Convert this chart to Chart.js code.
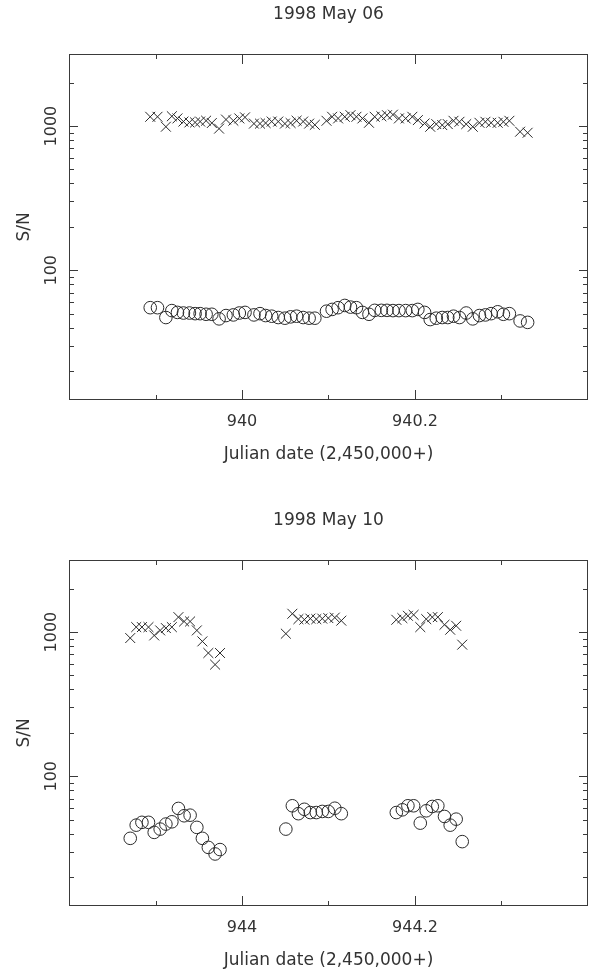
<!DOCTYPE html>
<html>
<head>
<meta charset="utf-8">
<title>S/N 1998 May 06 / May 10</title>
<script src="https://cdn.jsdelivr.net/npm/chart.js@4.4.1/dist/chart.umd.min.js"></script>
<style>
  body { margin: 0; background: #fff; overflow: hidden; }
  canvas { display: block; }
</style>
</head>
<body>
<canvas id="may06" width="598" height="506"></canvas>
<canvas id="may10" width="598" height="506"></canvas>
<script>
// ---- 1998 May 06 ----
var may06Dates = [
  939.8939, 939.9023, 939.9120, 939.9189, 939.9254, 939.9323, 939.9392, 939.9458, 939.9516, 939.9585,
  939.9651, 939.9735, 939.9815, 939.9900, 939.9969, 940.0035, 940.0138, 940.0208, 940.0273, 940.0343,
  940.0419, 940.0496, 940.0562, 940.0631, 940.0707, 940.0776, 940.0842,
  940.0977, 940.1042, 940.1111, 940.1188, 940.1254, 940.1323, 940.1392, 940.1468, 940.1534, 940.1611,
  940.1676, 940.1745, 940.1814, 940.1892, 940.1969, 940.2033, 940.2111, 940.2176, 940.2246, 940.2315,
  940.2379, 940.2445, 940.2514, 940.2592, 940.2668, 940.2745, 940.2814, 940.2880, 940.2956, 940.3022,
  940.3091, 940.3215, 940.3302
];
var may06Crosses = [
  1160, 1160, 990, 1170, 1130, 1075, 1060, 1060, 1075, 1090,
  1050, 960, 1110, 1090, 1130, 1150, 1040, 1040, 1050, 1075,
  1075, 1040, 1050, 1090, 1075, 1040, 1020,
  1088, 1160, 1130, 1160, 1190, 1160, 1130, 1054, 1160, 1170,
  1190, 1200, 1130, 1130, 1160, 1100, 1043, 989, 1032, 1016,
  1032, 1088, 1071, 1032, 989, 1054, 1071, 1054, 1054, 1071,
  1088, 914, 899
];
var may06Circles = [
  55, 55, 47, 52.5, 51, 50.5, 50.5, 50, 50, 49.5,
  49.5, 46, 48.5, 49, 50.5, 51, 49, 50, 48.5, 48,
  47, 46.5, 47.5, 48, 47, 46.5, 46.5,
  52, 53.5, 55, 57, 55.5, 55, 51, 49.5, 52.7, 52.7,
  52.7, 52.5, 52.5, 52.5, 52.5, 53.5, 51, 45.5, 46.5, 47,
  47, 48, 47, 50.5, 46, 48.5, 49, 50, 51.5, 49.5,
  50, 44.5, 43.5
];
var may06TickLabels = [940, 940.2];

// ---- 1998 May 10 ----
var may10Dates = [
  943.8708, 943.8777, 943.8843, 943.8919, 943.8985, 943.9054, 943.9120, 943.9189,
  943.9265, 943.9331, 943.9400, 943.9478, 943.9542, 943.9611, 943.9689, 943.9746,
  944.0507, 944.0582, 944.0652, 944.0721, 944.0790, 944.0859, 944.0928, 944.0998,
  944.1073, 944.1148,
  944.1784, 944.1854, 944.1918, 944.1984, 944.2061, 944.2130, 944.2200, 944.2264,
  944.2341, 944.2407, 944.2476, 944.2546
];
var may10Crosses = [
  909, 1083, 1083, 1083, 948, 1027, 1066, 1083,
  1270, 1185, 1185, 1027, 862, 716, 595, 716,
  975, 1340, 1230, 1220, 1240, 1230, 1240, 1250,
  1260, 1200,
  1217, 1250, 1297, 1317, 1083, 1230, 1270, 1270,
  1124, 1038, 1106, 818
];
var may10Circles = [
  37.1, 45.8, 47.9, 47.9, 40.8, 43.0, 46.6, 48.3,
  59.8, 53.2, 53.7, 44.2, 37.1, 32.1, 28.9, 31.0,
  43, 62.4, 55, 59, 56, 56, 57, 57,
  60, 55,
  56, 58.5, 62.4, 62.4, 47.3, 57.6, 61.7, 62.4,
  52.6, 45.8, 50.4, 35.2
];
var may10TickLabels = [944, 944.2];

var yTickLabels = [100, 1000];

var FONT = "'DejaVu Sans', sans-serif";
var INK = "#2a2a2a";
var TEXT = "#333";

// frame + inward tick marks + rotated y labels, all from the chart scales
var framePlugin = {
  id: "frame",
  afterDraw: function (chart) {
    var ctx = chart.ctx;
    var area = chart.chartArea;
    var xs = chart.scales.x;
    var ys = chart.scales.y;
    var majors = chart.options.plugins.frame.xMajor;

    ctx.save();
    ctx.strokeStyle = "#3a3a3a";
    ctx.lineWidth = 1;
    ctx.strokeRect(area.left + 0.5, area.top + 0.5, area.right - area.left - 1, area.bottom - area.top - 1);

    ctx.beginPath();
    // x ticks every 0.1, longer where labelled
    for (var k = 1; k < 6; k++) {
      var v = xs.min + 0.1 * k;
      var isMajor = majors.some(function (m) { return Math.abs(m - v) < 1e-6; });
      var len = isMajor ? 10 : 5;
      var px = Math.round(xs.getPixelForValue(v)) + 0.5;
      ctx.moveTo(px, area.bottom);
      ctx.lineTo(px, area.bottom - len);
      ctx.moveTo(px, area.top);
      ctx.lineTo(px, area.top + len);
    }
    // log ticks on y
    for (var dec = 10; dec <= 1000; dec *= 10) {
      for (var m = 1; m < 10; m++) {
        var val = dec * m;
        if (val < ys.min || val > 2500) continue;
        var l = m === 1 ? 9 : 5;
        var py = Math.round(ys.getPixelForValue(val)) + 0.5;
        ctx.moveTo(area.left, py);
        ctx.lineTo(area.left + l, py);
        ctx.moveTo(area.right, py);
        ctx.lineTo(area.right - l, py);
      }
    }
    ctx.stroke();

    // y tick labels, rotated like the original
    ctx.fillStyle = TEXT;
    ctx.font = "16px " + FONT;
    ctx.textAlign = "center";
    ctx.textBaseline = "middle";
    yTickLabels.forEach(function (t) {
      var y = ys.getPixelForValue(t);
      ctx.save();
      ctx.translate(52, y);
      ctx.rotate(-Math.PI / 2);
      ctx.fillText(String(t), 0, 0);
      ctx.restore();
    });
    ctx.restore();
  }
};

function toPoints(xs, ys) {
  return xs.map(function (x, i) {
    return { x: x, y: ys[i] };
  });
}

function makeChart(id, title, dates, crosses, circles, tickLabels, xMin, xMax) {
  var ctx = document.getElementById(id).getContext("2d");
  return new Chart(ctx, {
    type: "scatter",
    data: {
      datasets: [
        {
          data: toPoints(dates, crosses),
          pointStyle: "crossRot",
          pointRadius: 7,
          borderColor: INK,
          borderWidth: 1
        },
        {
          data: toPoints(dates, circles),
          pointStyle: "circle",
          pointRadius: 6.3,
          backgroundColor: "rgba(0,0,0,0)",
          borderColor: INK,
          borderWidth: 1
        }
      ]
    },
    options: {
      responsive: false,
      animation: false,
      events: [],
      layout: { padding: { left: 0, right: 10, top: 0, bottom: 0 } },
      plugins: {
        legend: { display: false },
        tooltip: { enabled: false },
        title: {
          display: true,
          text: title,
          fullSize: false,
          color: TEXT,
          font: { family: FONT, size: 17, weight: "normal" },
          padding: { top: 4.3, bottom: 29.3 }
        },
        frame: { xMajor: tickLabels }
      },
      scales: {
        x: {
          type: "linear",
          min: xMin,
          max: xMax,
          grid: { display: false, drawTicks: false },
          border: { display: false },
          afterBuildTicks: function (scale) {
            scale.ticks = tickLabels.map(function (v) { return { value: v }; });
          },
          afterFit: function (scale) { scale.height = 106; },
          ticks: {
            color: TEXT,
            padding: 12,
            maxRotation: 0,
            autoSkip: false,
            font: { family: FONT, size: 16 },
            callback: function (v) { return String(v); }
          },
          title: {
            display: true,
            text: "Julian date (2,450,000+)",
            color: TEXT,
            font: { family: FONT, size: 17 },
            padding: { top: 0, bottom: 40.8 }
          }
        },
        y: {
          type: "logarithmic",
          min: Math.pow(10, 1.1),
          max: Math.pow(10, 3.5),
          grid: { display: false, drawTicks: false },
          border: { display: false },
          ticks: { display: false },
          afterFit: function (scale) { scale.width = 69; },
          title: {
            display: true,
            text: "S/N",
            color: TEXT,
            font: { family: FONT, size: 17 },
            padding: { top: 14.8, bottom: 0 }
          }
        }
      }
    },
    plugins: [framePlugin]
  });
}

makeChart("may06", "1998 May 06", may06Dates, may06Crosses, may06Circles, may06TickLabels, 939.8, 940.4);
makeChart("may10", "1998 May 10", may10Dates, may10Crosses, may10Circles, may10TickLabels, 943.8, 944.4);
</script>
</body>
</html>
